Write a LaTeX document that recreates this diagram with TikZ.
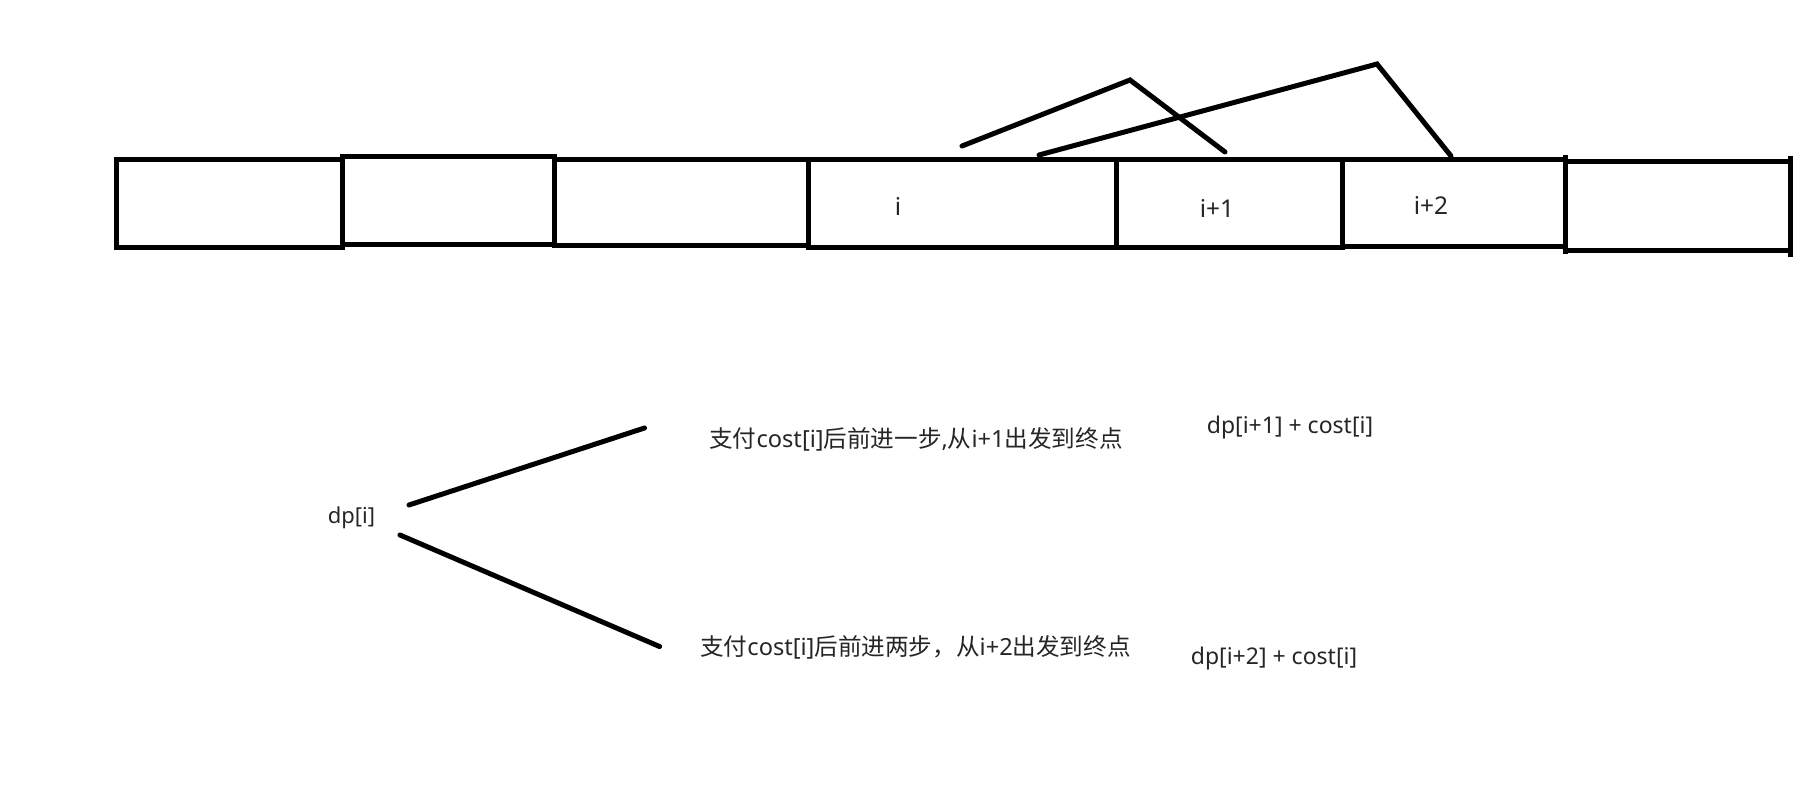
\documentclass[tikz,border=0pt]{standalone}
\usepackage{fontspec}
\setmainfont{Noto Sans}
\newfontfamily\cjk{Noto Sans CJK SC}
\begin{document}
\begin{tikzpicture}[x=1pt,y=-1pt,
  cell/.style={line width=5pt, line join=miter},
  stroke/.style={line width=5pt, line cap=round},
  lbl/.style={font=\fontsize{23}{27}\selectfont, text=black!85, inner sep=0pt, anchor=center},
  celllbl/.style={lbl, font=\fontsize{24.5}{28}\selectfont},
  cnlbl/.style={lbl, font=\fontsize{23.6}{28}\selectfont},
  dplbl/.style={lbl, font=\fontsize{22}{26}\selectfont}]
\useasboundingbox (0,0) rectangle (1817,792);
\fill[white] (0,0) rectangle (1817,792);
% array cells
\draw[cell] (116,159) rectangle (342,247);
\draw[cell] (342,156.5) rectangle (554,244.5);
\draw[cell] (554,159) rectangle (808,245);
\draw[cell] (808,159) rectangle (1116,247);
\draw[cell] (1116,159) rectangle (1342,247);
\draw[cell] (1342,159) rectangle (1565,246);
\draw[cell] (1565,161.5) -- (1790,161.5);
\draw[cell] (1565,250) -- (1790,250);
\draw[cell] (1565,155) -- (1565,254);
\draw[cell] (1790,156) -- (1790,257);
% labels in cells
\node[celllbl] (ci) at (898,206) {i};
\node[celllbl] (ci1) at (1217,208.5) {i+1};
\node[celllbl] (ci2) at (1431,205) {i+2};
% jump strokes
\coordinate (a0) at (962,146);
\coordinate (a1) at (1130,80);
\coordinate (a2) at (1225,152);
\coordinate (b0) at (1039,155);
\coordinate (b1) at (1377,64);
\coordinate (b2) at (1451,156);
\draw[stroke] (a0) -- (a1) -- (a2);
\draw[stroke] (b0) -- (b1) -- (b2);
% tree
\node[dplbl] (dp) at (351.5,517.5) {dp[i]};
\coordinate (u0) at (409,505);
\coordinate (u1) at (644.5,428);
\coordinate (d0) at (400,535);
\coordinate (d1) at (659.5,646.5);
\draw[stroke] (u0) -- (u1);
\draw[stroke] (d0) -- (d1);
\node[cnlbl] (t1) at (916,439) {{\cjk 支付}cost[i]{\cjk 后前进一步},{\cjk 从}i+1{\cjk 出发到终点}};
\node[cnlbl] (t2) at (915.5,647) {{\cjk 支付}cost[i]{\cjk 后前进两步，从}i+2{\cjk 出发到终点}};
\node[lbl] (r1) at (1290,428) {dp[i+1] + cost[i]};
\node[lbl] (r2) at (1274,659) {dp[i+2] + cost[i]};
\end{tikzpicture}
\end{document}
